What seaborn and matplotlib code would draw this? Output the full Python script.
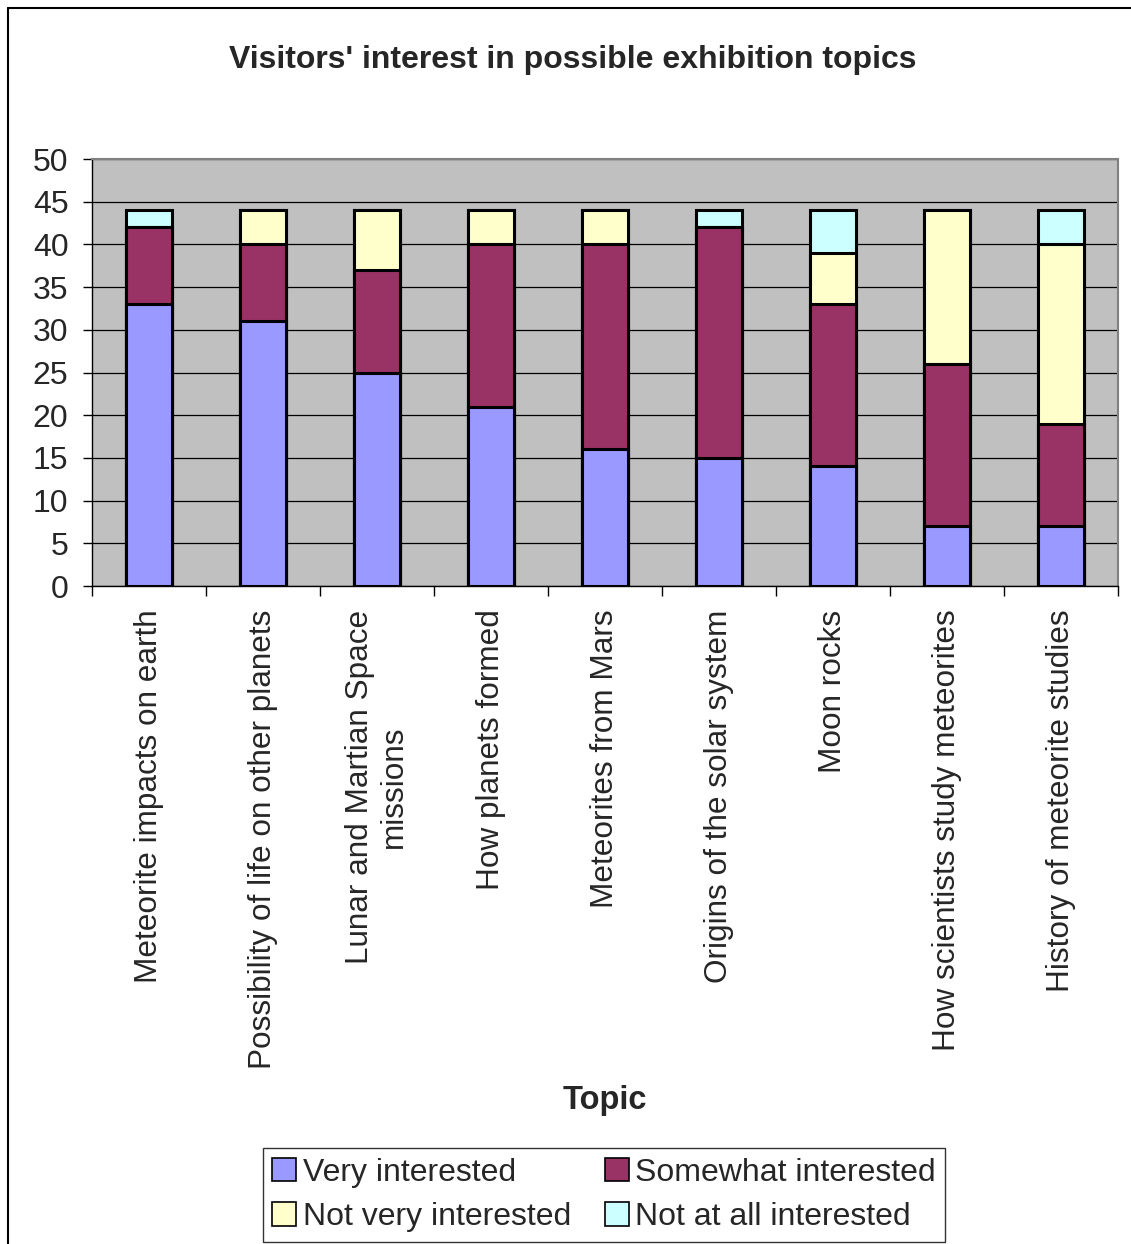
import numpy as np
import pandas as pd
import seaborn as sns
import matplotlib
matplotlib.use("Agg")
import matplotlib.pyplot as plt
from matplotlib.lines import Line2D
from matplotlib.patches import Patch

topics = [
    "Meteorite impacts on earth",
    "Possibility of life on other planets",
    "Lunar and Martian Space\nmissions",
    "How planets formed",
    "Meteorites from Mars",
    "Origins of the solar system",
    "Moon rocks",
    "How scientists study meteorites",
    "History of meteorite studies",
]
very_interested = [33, 31, 25, 21, 16, 15, 14, 7, 7]
somewhat_interested = [9, 9, 12, 19, 24, 27, 19, 19, 12]
not_very_interested = [0, 4, 7, 4, 4, 0, 6, 18, 21]
not_at_all_interested = [2, 0, 0, 0, 0, 2, 5, 0, 4]

series_names = ["Very interested", "Somewhat interested",
                "Not very interested", "Not at all interested"]
series_colors = ["#9999FF", "#993366", "#FFFFCC", "#CCFFFF"]

sns.set_theme(style="white")
plt.rcParams["font.family"] = ["Liberation Sans", "DejaVu Sans"]

df = pd.DataFrame({
    "Topic": topics,
    series_names[0]: very_interested,
    series_names[1]: somewhat_interested,
    series_names[2]: not_very_interested,
    series_names[3]: not_at_all_interested,
})
cum = df[series_names].cumsum(axis=1)

W, H = 1131, 1244
fig = plt.figure(figsize=(W / 100, H / 100), dpi=100)
ax = fig.add_axes([92 / W, 1 - 586 / H, (1118 - 92) / W, (586 - 159) / H])
ax.set_facecolor("#C0C0C0")

# stacked bars: draw cumulative totals from the top layer down
for name, color in reversed(list(zip(series_names, series_colors))):
    sns.barplot(x=df["Topic"], y=cum[name], color=color, width=0.4,
                edgecolor="black", linewidth=2.2, saturation=1,
                ax=ax, zorder=3)

ax.set_ylim(0, 50)
ax.set_xlim(-0.5, len(topics) - 0.5)
ax.set_yticks(np.arange(0, 51, 5))
ax.yaxis.grid(True, color="black", linewidth=0.9)
ax.set_axisbelow(True)
for s in ["top", "right"]:
    ax.spines[s].set_color("#808080")
    ax.spines[s].set_linewidth(1.5)
for s in ["left", "bottom"]:
    ax.spines[s].set_color("black")
    ax.spines[s].set_linewidth(1.0)

ax.tick_params(axis="y", which="major", direction="out", length=6.5,
               width=1, color="black", left=True, labelsize=23, pad=10.5)
ax.set_xticks(range(len(topics)))
ax.set_xticklabels(topics, rotation=90, ha="center", va="top", fontsize=22.7)
ax.tick_params(axis="x", which="major", length=0, pad=17)
ax.set_xticks(np.arange(-0.5, len(topics), 1.0), minor=True)
ax.tick_params(axis="x", which="minor", direction="out", length=7,
               width=1, color="black", bottom=True)

ax.set_ylabel("")
ax.set_xlabel("")
fig.text(605 / W, 1 - 1101 / H, "Topic", ha="center", va="center",
         fontsize=23.5, fontweight="bold")
fig.text(573 / W, 1 - 60 / H, "Visitors' interest in possible exhibition topics",
         ha="center", va="center", fontsize=23, fontweight="bold")

handles = {n: Patch(facecolor=c, edgecolor="black", linewidth=1.2, label=n)
           for n, c in zip(series_names, series_colors)}
# legend reads row by row: two series per row
legend_order = ["Very interested", "Not very interested",
                "Somewhat interested", "Not at all interested"]
leg = fig.legend(handles=[handles[n] for n in legend_order], ncol=2,
                 loc="center", bbox_to_anchor=(604 / W, 1 - 1195 / H),
                 fontsize=23, frameon=True, fancybox=False, edgecolor="black",
                 handlelength=0.75, handleheight=0.75, handletextpad=0.2,
                 columnspacing=1.05, labelspacing=0.45, borderpad=0.3,
                 borderaxespad=0)
leg.get_frame().set_linewidth(1.0)

# chart area border (left and top)
fig.add_artist(Line2D([8 / W, 8 / W], [0, 1 - 8 / H], color="black",
                      linewidth=1.5, transform=fig.transFigure))
fig.add_artist(Line2D([8 / W, 1], [1 - 8 / H, 1 - 8 / H], color="black",
                      linewidth=1.5, transform=fig.transFigure))

fig.savefig("out.png", dpi=100, facecolor="white")
